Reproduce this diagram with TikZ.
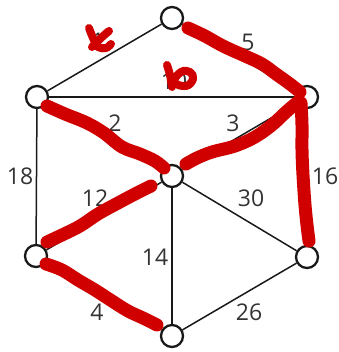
\documentclass[tikz,border=0pt]{standalone}
\usepackage{fontspec}
\setmainfont{Open Sans}
\definecolor{lbl}{RGB}{51,51,51}
\definecolor{edge}{RGB}{25,25,25}
\definecolor{mark}{RGB}{208,0,0}
\begin{document}
\begin{tikzpicture}[x=1pt,y=-1pt,
  vert/.style={circle,draw=edge,line width=2.3pt,fill=white,minimum size=22pt,inner sep=0pt},
  edgeline/.style={draw=edge,line width=1.5pt},
  lab/.style={text=lbl,font=\fontsize{23}{23}\selectfont,inner sep=0pt},
  scrib/.style={draw=mark,line width=13pt,line cap=round,line join=round},
  scribthin/.style={draw=mark,line width=8pt,line cap=round,line join=round}]
\useasboundingbox (0,0) rectangle (338,352);
% vertices
\node[vert] (T) at (172,18) {};
\node[vert] (LU) at (37,97) {};
\node[vert] (RU) at (307,97) {};
\node[vert] (C) at (172,176) {};
\node[vert] (LL) at (36,256) {};
\node[vert] (RL) at (307,257) {};
\node[vert] (B) at (172,336) {};
% edges
\path[edgeline] (T) -- (LU);
\path[edgeline] (T) -- (RU);
\path[edgeline] (LU) -- (RU);
\path[edgeline] (LU) -- (C);
\path[edgeline] (RU) -- (C);
\path[edgeline] (LU) -- (LL);
\path[edgeline] (RU) -- (RL);
\path[edgeline] (C) -- (LL);
\path[edgeline] (C) -- (RL);
\path[edgeline] (C) -- (B);
\path[edgeline] (LL) -- (B);
\path[edgeline] (RL) -- (B);
% labels
\node[lab] (l1) at (98,41) {1};
\node[lab] (l5) at (248,42) {5};
\node[lab] (l10) at (174,81) {10};
\node[lab] (l2) at (115,123) {2};
\node[lab] (l3) at (233,123) {3};
\node[lab] (l18) at (20,176) {18};
\node[lab] (l16) at (325,176) {16};
\node[lab] (l12) at (95,198) {12};
\node[lab] (l30) at (251,198) {30};
\node[lab] (l14) at (155,257) {14};
\node[lab] (l4) at (97,312) {4};
\node[lab] (l26) at (249,312) {26};
% red marks
\draw[scrib] plot[smooth,tension=0.6] coordinates {(188,28) (205,36) (223,46) (245,56) (262,64) (276,74) (290,84) (300,92)};
\draw[scrib] plot[smooth,tension=0.6] coordinates {(47,106) (65,114) (87,123) (104,133) (122,147) (140,154) (155,161) (164,168)};
\draw[scrib] plot[smooth,tension=0.6] coordinates {(299,101) (286,112) (272,125) (255,137) (235,146) (212,152) (197,158) (186,164)};
\draw[scrib] plot[smooth,tension=0.6] coordinates {(301,103) (302,125) (302,150) (303,175) (305,205) (307,225) (309,241)};
\draw[scrib] plot[smooth,tension=0.6] coordinates {(151,186) (135,194) (118,203) (98,214) (80,226) (62,235) (47,242)};
\draw[scrib] plot[smooth,tension=0.6] coordinates {(46,264) (62,270) (78,280) (95,290) (112,301) (128,311) (143,318) (157,325)};
\draw[scribthin] plot[smooth,tension=0.6] coordinates {(89,28) (93,38) (98,47) (106,48) (111,44)};
\draw[scribthin] plot[smooth,tension=0.6] coordinates {(109,31) (101,38) (92,47)};
\draw[scribthin] plot[smooth,tension=0.6] coordinates {(167,65) (170,75) (172,87)};
\draw[scribthin] plot[smooth cycle,tension=0.7] coordinates {(174,82) (181,72) (190,72) (193,79) (186,86)};
\end{tikzpicture}
\end{document}
